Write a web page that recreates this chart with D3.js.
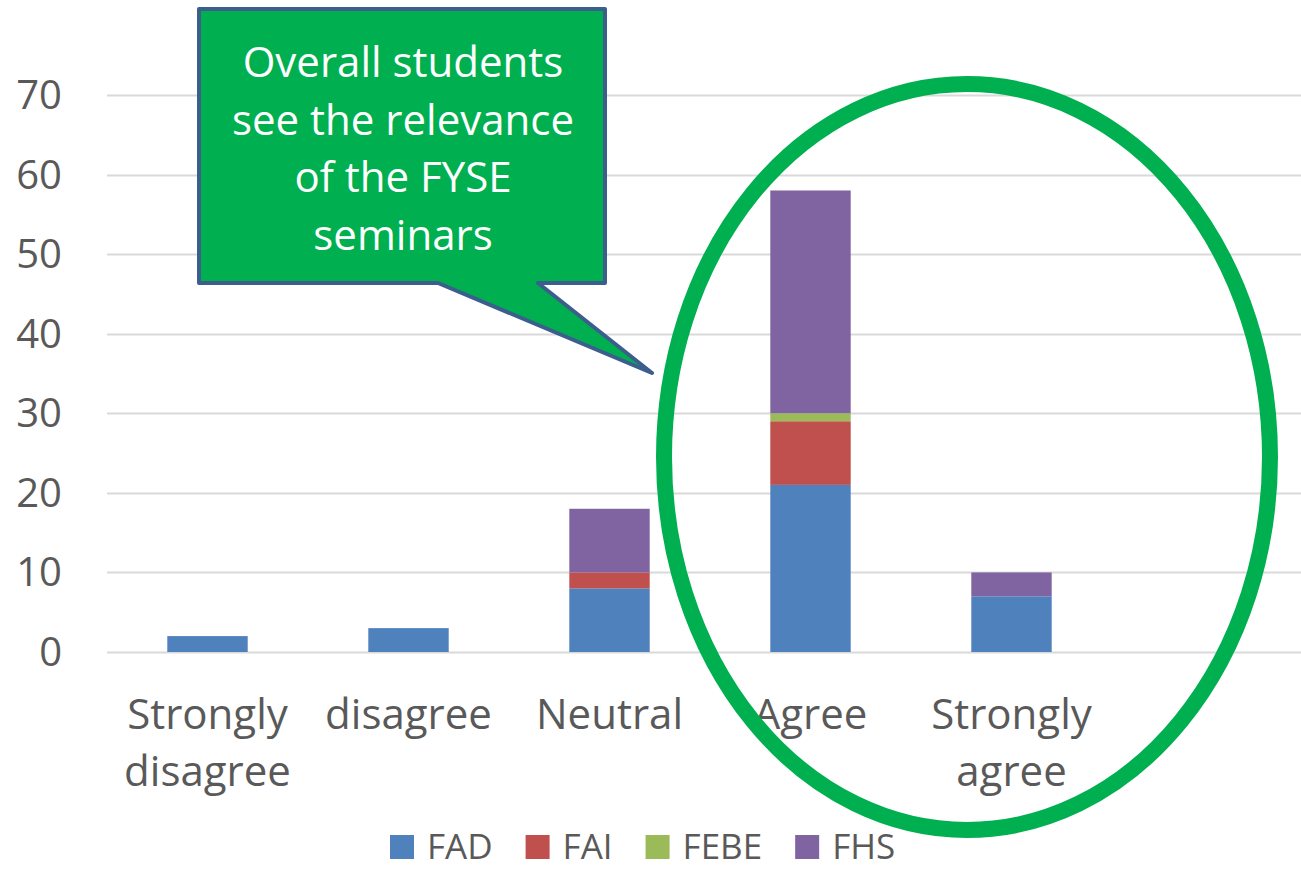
<!DOCTYPE html>
<html>
<head>
<meta charset="utf-8">
<script src="https://cdn.jsdelivr.net/npm/d3@7"></script>
<style>
  body { margin: 0; background: #fff; }
  svg { display: block; font-family: "Open Sans", sans-serif; }
</style>
</head>
<body>
<div id="chart-area"></div>
<script>
const categories = ["Strongly\ndisagree", "disagree", "Neutral", "Agree", "Strongly\nagree", ""];
const seriesNames = ["FAD", "FAI", "FEBE", "FHS"];
const FAD  = [2, 3, 8, 21, 7, 0];
const FAI  = [0, 0, 2, 8, 0, 0];
const FEBE = [0, 0, 0, 1, 0, 0];
const FHS  = [0, 0, 8, 28, 3, 0];
const yTicks = [0, 10, 20, 30, 40, 50, 60, 70];
const calloutLines = ["Overall students", "see the relevance", "of the FYSE", "seminars"];

const colors = ["#4F81BD", "#C0504D", "#9BBB59", "#8064A2"];
const width = 1301, height = 871;

const svg = d3.select("#chart-area")
  .append("svg")
  .attr("width", width)
  .attr("height", height);

const rows = categories.map((c, i) => ({ cat: c, FAD: FAD[i], FAI: FAI[i], FEBE: FEBE[i], FHS: FHS[i] }));
const stacked = d3.stack().keys(seriesNames)(rows);

const x = d3.scaleBand()
  .domain(categories)
  .range([107, 1313])
  .paddingInner(0.6)
  .paddingOuter(0.3);

const y = d3.scaleLinear()
  .domain([0, 70])
  .range([652, 95]);

// gridlines
svg.append("g")
  .selectAll("line")
  .data(yTicks)
  .join("line")
  .attr("x1", 107)
  .attr("x2", 1313)
  .attr("y1", d => Math.round(y(d)) + 0.5)
  .attr("y2", d => Math.round(y(d)) + 0.5)
  .attr("stroke", "#D9D9D9")
  .attr("stroke-width", 2);

// y tick labels
svg.append("g")
  .selectAll("text")
  .data(yTicks)
  .join("text")
  .attr("x", 62)
  .attr("y", d => y(d))
  .attr("dy", "0.35em")
  .attr("text-anchor", "end")
  .attr("fill", "#595959")
  .attr("font-size", 40)
  .text(d => d);

// bars
svg.append("g")
  .selectAll("g")
  .data(stacked)
  .join("g")
  .attr("fill", (d, i) => colors[i])
  .selectAll("rect")
  .data(d => d.filter(s => s[1] - s[0] > 0))
  .join("rect")
  .attr("x", d => x(d.data.cat))
  .attr("width", x.bandwidth())
  .attr("y", d => y(d[1]))
  .attr("height", d => y(d[0]) - y(d[1]));

// x labels
const xl = svg.append("g")
  .selectAll("text")
  .data(categories)
  .join("text")
  .attr("x", d => x(d) + x.bandwidth() / 2)
  .attr("y", 729)
  .attr("text-anchor", "middle")
  .attr("fill", "#595959")
  .attr("font-size", 42);
xl.selectAll("tspan")
  .data(d => d.split("\n"))
  .join("tspan")
  .attr("x", function() { return this.parentNode.getAttribute("x"); })
  .attr("dy", (d, i) => i === 0 ? 0 : 57)
  .text(d => d);

// legend
const legend = svg.append("g").attr("transform", "translate(390,0)");
let lx = 0;
seriesNames.forEach((s, i) => {
  const g = legend.append("g").attr("transform", `translate(${lx},0)`);
  g.append("rect")
    .attr("x", 0).attr("y", 835)
    .attr("width", 24).attr("height", 24)
    .attr("fill", colors[i]);
  const t = g.append("text")
    .attr("x", 37).attr("y", 859)
    .attr("fill", "#595959")
    .attr("font-size", 35)
    .text(s);
  lx += 37 + t.node().getComputedTextLength() + 33;
});

// callout
const callout = svg.append("g");
callout.append("path")
  .attr("d", "M199,9 H605 V283 H538 L652,373 L438,283 H199 Z")
  .attr("fill", "#00B050")
  .attr("stroke", "#3B5E8C")
  .attr("stroke-width", 4)
  .attr("stroke-linejoin", "round");
callout.append("g")
  .selectAll("text")
  .data(calloutLines)
  .join("text")
  .attr("x", 403)
  .attr("y", (d, i) => 77 + i * 57.5)
  .attr("text-anchor", "middle")
  .attr("fill", "#fff")
  .attr("font-size", 42)
  .text(d => d);

// ellipse
svg.append("ellipse")
  .attr("cx", 967)
  .attr("cy", 457)
  .attr("rx", 303)
  .attr("ry", 373)
  .attr("fill", "none")
  .attr("stroke", "#00B050")
  .attr("stroke-width", 16);
</script>
</body>
</html>
